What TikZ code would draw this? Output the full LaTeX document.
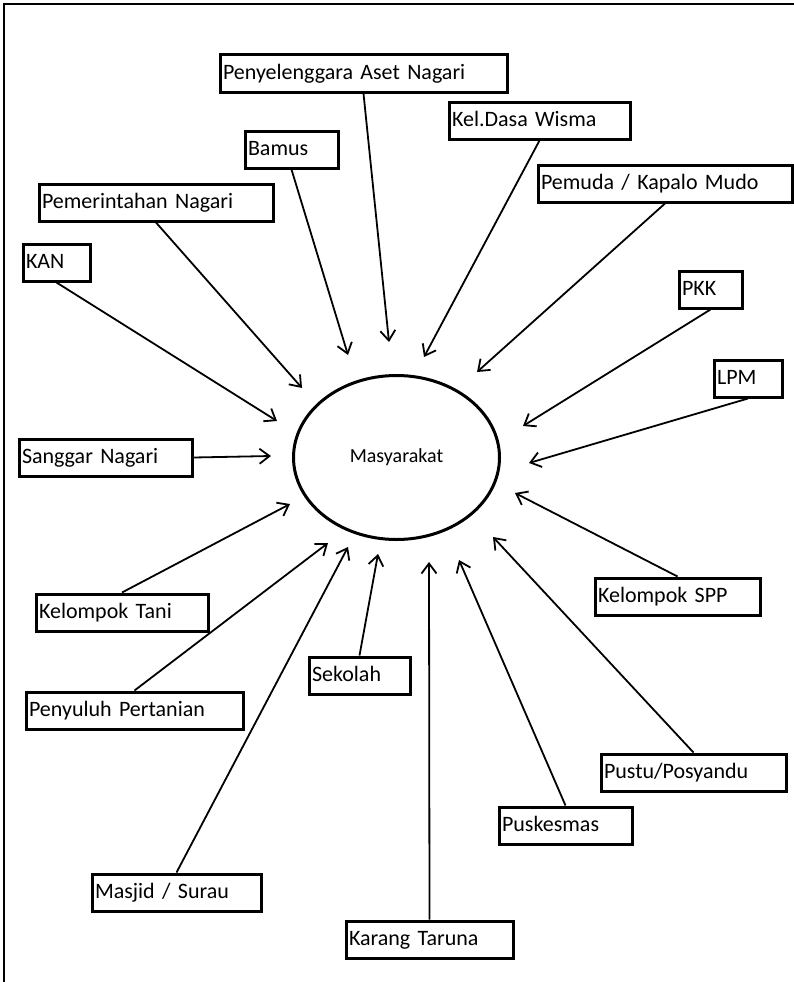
\documentclass[tikz,border=0pt]{standalone}
\usepackage{fontspec}
\setmainfont{Carlito}
\usetikzlibrary{shapes.geometric, arrows.meta}

\begin{document}
\begin{tikzpicture}[x=1pt,y=-1pt,
	box/.style={draw, line width=3pt, anchor=north west, minimum height=37pt,
		inner xsep=3pt, inner ysep=0pt, align=left, text height=15pt, text depth=4pt,
		font=\fontsize{22}{26}\selectfont},
	arr/.style={line width=1.8pt, -{Straight Barb[length=10pt,width=15pt]}}]
		\useasboundingbox (0,0) rectangle (794,982);
		% frame
		\draw[line width=2pt] (4,982) -- (4,4) -- (794,4);
		% centre
		\node[draw, ellipse, line width=3pt, minimum width=206pt, minimum height=164pt,
			font=\fontsize{20}{24}\selectfont] (masy) at (396.5,457.5) {Masyarakat};
		% upper boxes
		\node[box, text width=281pt] (aset) at (218.5,53.5) {Penyelenggara Aset Nagari};
		\node[box, text width=87pt] (bamus) at (243.5,129.5) {Bamus};
		\node[box, text width=228pt] (pemerintahan) at (37.5,182.5) {Pemerintahan Nagari};
		\node[box, text width=61pt] (kan) at (21.5,242.5) {KAN};
		\node[box, text width=175pt] (dasa) at (447.5,100.5) {Kel.Dasa Wisma};
		\node[box, text width=248pt] (pemuda) at (536.5,163.5) {Pemuda / Kapalo Mudo};
		\node[box, text width=57pt] (pkk) at (677.5,269.5) {PKK};
		\node[box, text width=62pt] (lpm) at (712.5,358.5) {LPM};
		% side and lower boxes
		\node[box, text width=167pt] (sanggar) at (17.5,437.5) {Sanggar Nagari};
		\node[box, text width=166pt] (tani) at (34.5,592.5) {Kelompok Tani};
		\node[box, text width=211pt] (penyuluh) at (24.5,690.5) {Penyuluh Pertanian};
		\node[box, text width=163pt] (masjid) at (90.5,872.5) {Masjid / Surau};
		\node[box, text width=95pt] (sekolah) at (307.5,655.5) {Sekolah};
		\node[box, text width=161pt] (karang) at (344.5,919.5) {Karang Taruna};
		\node[box, text width=127pt] (puskesmas) at (497.5,805.5) {Puskesmas};
		\node[box, text width=179pt] (pustu) at (599.5,752.5) {Pustu/Posyandu};
		\node[box, text width=159pt] (spp) at (593.5,576.5) {Kelompok SPP};
		% arrow tips round the centre
		\coordinate (t-aset) at (389,342);
		\coordinate (t-bamus) at (348,355);
		\coordinate (t-pemerintahan) at (302,388);
		\coordinate (t-kan) at (277,421);
		\coordinate (t-sanggar) at (271,456);
		\coordinate (t-tani) at (290,504);
		\coordinate (t-penyuluh) at (328,543);
		\coordinate (t-masjid) at (348,547);
		\coordinate (t-sekolah) at (378,554);
		\coordinate (t-karang) at (429,562);
		\coordinate (t-puskesmas) at (459,560);
		\coordinate (t-pustu) at (493,537);
		\coordinate (t-spp) at (515,493);
		\coordinate (t-lpm) at (529,463);
		\coordinate (t-pkk) at (523,426);
		\coordinate (t-pemuda) at (477,372);
		\coordinate (t-dasa) at (424,357);
		% arrows
		\draw[arr] (aset.south) -- (t-aset);
		\draw[arr] (bamus.south) -- (t-bamus);
		\draw[arr] (pemerintahan.south) -- (t-pemerintahan);
		\draw[arr] (kan.south) -- (t-kan);
		\draw[arr] (sanggar.east) -- (t-sanggar);
		\draw[arr] (tani.north) -- (t-tani);
		\draw[arr] (penyuluh.north) -- (t-penyuluh);
		\draw[arr] (masjid.north) -- (t-masjid);
		\draw[arr] (sekolah.north) -- (t-sekolah);
		\draw[arr] (karang.north) -- (t-karang);
		\draw[arr] (puskesmas.north) -- (t-puskesmas);
		\draw[arr] (pustu.north) -- (t-pustu);
		\draw[arr] (spp.north) -- (t-spp);
		\draw[arr] (lpm.south) -- (t-lpm);
		\draw[arr] (pkk.south) -- (t-pkk);
		\draw[arr] (pemuda.south) -- (t-pemuda);
		\draw[arr] (dasa.south) -- (t-dasa);
	\end{tikzpicture}
\end{document}
